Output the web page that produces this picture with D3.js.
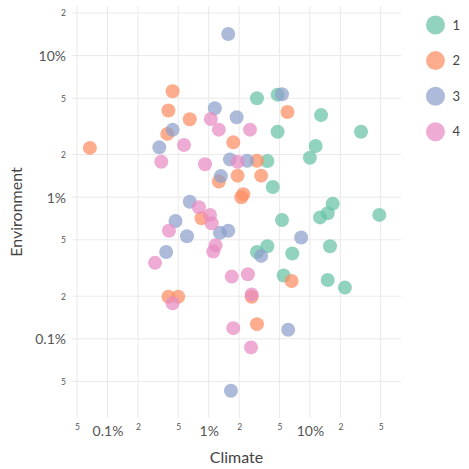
<!DOCTYPE html>
<html>
<head>
<meta charset="utf-8">
<script src="https://cdn.jsdelivr.net/npm/d3@7"></script>
<style>
  html, body { margin: 0; padding: 0; background: #fff; }
  svg { display: block; }
  text { font-family: Lato, "Open Sans", sans-serif; }
</style>
</head>
<body>
<div id="chart"></div>
<script>
// ---- data (values in percent) ----
const groups = ["1", "2", "3", "4"];
const colors = ["#66c2a5", "#fc8d62", "#8da0cb", "#e78ac3"];

const climate1 = [3.0, 4.8, 12.9, 32, 4.8, 11.4, 10.0, 3.8, 4.3, 16.8, 15.0, 12.6, 5.3, 48.5, 15.8, 6.7, 3.8, 3.0, 5.5, 15.0, 22.2];
const env1     = [5.0, 5.3, 3.8, 2.9, 2.9, 2.3, 1.9, 1.8, 1.18, 0.90, 0.77, 0.72, 0.69, 0.75, 0.45, 0.40, 0.45, 0.41, 0.28, 0.26, 0.23];

const climate2 = [0.067, 0.44, 0.40, 0.65, 6.0, 0.39, 1.75, 3.0, 1.26, 1.93, 3.3, 2.2, 2.1, 0.85, 6.6, 0.40, 0.50, 2.66, 3.0];
const env2     = [2.23, 5.6, 4.1, 3.55, 4.0, 2.8, 2.44, 1.81, 1.29, 1.42, 1.42, 1.05, 1.0, 0.71, 0.256, 0.198, 0.198, 0.198, 0.127];

const climate3 = [1.56, 5.3, 1.15, 1.89, 0.44, 0.325, 1.62, 2.4, 1.32, 0.65, 0.47, 0.61, 1.29, 1.56, 8.2, 0.38, 3.3, 6.1, 1.66];
const env3     = [14.2, 5.34, 4.25, 3.67, 2.99, 2.25, 1.85, 1.81, 1.41, 0.93, 0.68, 0.53, 0.56, 0.58, 0.52, 0.41, 0.385, 0.116, 0.043];

const climate4 = [1.05, 1.26, 2.56, 0.57, 0.34, 0.92, 1.93, 0.80, 1.03, 1.07, 0.405, 1.17, 1.11, 0.295, 1.69, 2.44, 0.44, 2.66, 1.75, 2.62];
const env4     = [3.57, 3.0, 3.0, 2.34, 1.78, 1.71, 1.78, 0.85, 0.75, 0.655, 0.58, 0.457, 0.413, 0.344, 0.275, 0.286, 0.178, 0.206, 0.119, 0.087];

const xTicks = [0.05, 0.1, 0.2, 0.5, 1, 2, 5, 10, 20, 50];
const xTickLabels = ["5", "0.1%", "2", "5", "1%", "2", "5", "10%", "2", "5"];
const yTicks = [0.05, 0.1, 0.2, 0.5, 1, 2, 5, 10, 20];
const yTickLabels = ["5", "0.1%", "2", "5", "1%", "2", "5", "10%", "2"];
const xLimits = [0.0446, 79.5];
const yLimits = [0.0276, 22.4];

const series = [
  { name: groups[0], color: colors[0], x: climate1, y: env1 },
  { name: groups[1], color: colors[1], x: climate2, y: env2 },
  { name: groups[2], color: colors[2], x: climate3, y: env3 },
  { name: groups[3], color: colors[3], x: climate4, y: env4 }
];

// ---- layout ----
const W = 469, H = 469;
const panel = { left: 72, right: 401, top: 6, bottom: 418 };

const svg = d3.select("#chart").append("svg").attr("width", W).attr("height", H);

const x = d3.scaleLog().domain(xLimits).range([panel.left, panel.right]);
const y = d3.scaleLog().domain(yLimits).range([panel.bottom, panel.top]);

// gridlines
const grid = svg.append("g");
grid.selectAll("line.vx").data(xTicks).join("line")
  .attr("x1", d => x(d)).attr("x2", d => x(d))
  .attr("y1", panel.top).attr("y2", panel.bottom)
  .attr("stroke", "#ebe8ea").attr("stroke-width", 1);
grid.selectAll("line.hy").data(yTicks).join("line")
  .attr("y1", d => y(d)).attr("y2", d => y(d))
  .attr("x1", panel.left).attr("x2", panel.right)
  .attr("stroke", "#ebe8ea").attr("stroke-width", 1);

// axes (labels only)
const isMajor = l => l.indexOf("%") >= 0;
const xAxis = d3.axisBottom(x).tickValues(xTicks).tickSize(0).tickPadding(0)
  .tickFormat((d, i) => xTickLabels[i]);
const gx = svg.append("g").attr("transform", `translate(0,${panel.bottom + 8})`).call(xAxis);
gx.select(".domain").remove();
gx.selectAll("text")
  .attr("dy", null)
  .attr("y", (d, i) => isMajor(xTickLabels[i]) ? 10 : 4)
  .attr("font-size", (d, i) => isMajor(xTickLabels[i]) ? 14 : 8.5)
  .attr("fill", "#555");

const yAxis = d3.axisLeft(y).tickValues(yTicks).tickSize(0).tickPadding(6)
  .tickFormat((d, i) => yTickLabels[i]);
const gy = svg.append("g").attr("transform", `translate(${panel.left},0)`).call(yAxis);
gy.select(".domain").remove();
gy.selectAll("text")
  .attr("dy", "0.35em")
  .attr("font-size", (d, i) => isMajor(yTickLabels[i]) ? 14 : 8.5)
  .attr("fill", "#555");

// axis titles
svg.append("text")
  .attr("x", (panel.left + panel.right) / 2).attr("y", 463)
  .attr("text-anchor", "middle").attr("font-size", 16).attr("fill", "#444")
  .text("Climate");
svg.append("text")
  .attr("transform", `translate(22,${(panel.top + panel.bottom) / 2}) rotate(-90)`)
  .attr("text-anchor", "middle").attr("font-size", 16).attr("fill", "#444")
  .text("Environment");

// points
const pts = svg.append("g");
series.forEach(s => {
  const data = s.x.map((v, i) => ({ cx: v, cy: s.y[i] }));
  pts.append("g").selectAll("circle").data(data).join("circle")
    .attr("cx", d => x(d.cx)).attr("cy", d => y(d.cy))
    .attr("r", 7)
    .attr("fill", s.color).attr("fill-opacity", 0.72);
});

// legend
const leg = svg.append("g").attr("transform", "translate(435.5,25)");
const li = leg.selectAll("g").data(series).join("g")
  .attr("transform", (d, i) => `translate(0,${i * 35.6})`);
li.append("circle").attr("r", 9.5).attr("fill", d => d.color).attr("fill-opacity", 0.72);
li.append("text").attr("x", 17).attr("dy", "0.35em").attr("font-size", 13)
  .attr("fill", "#444").text(d => d.name);
</script>
</body>
</html>
